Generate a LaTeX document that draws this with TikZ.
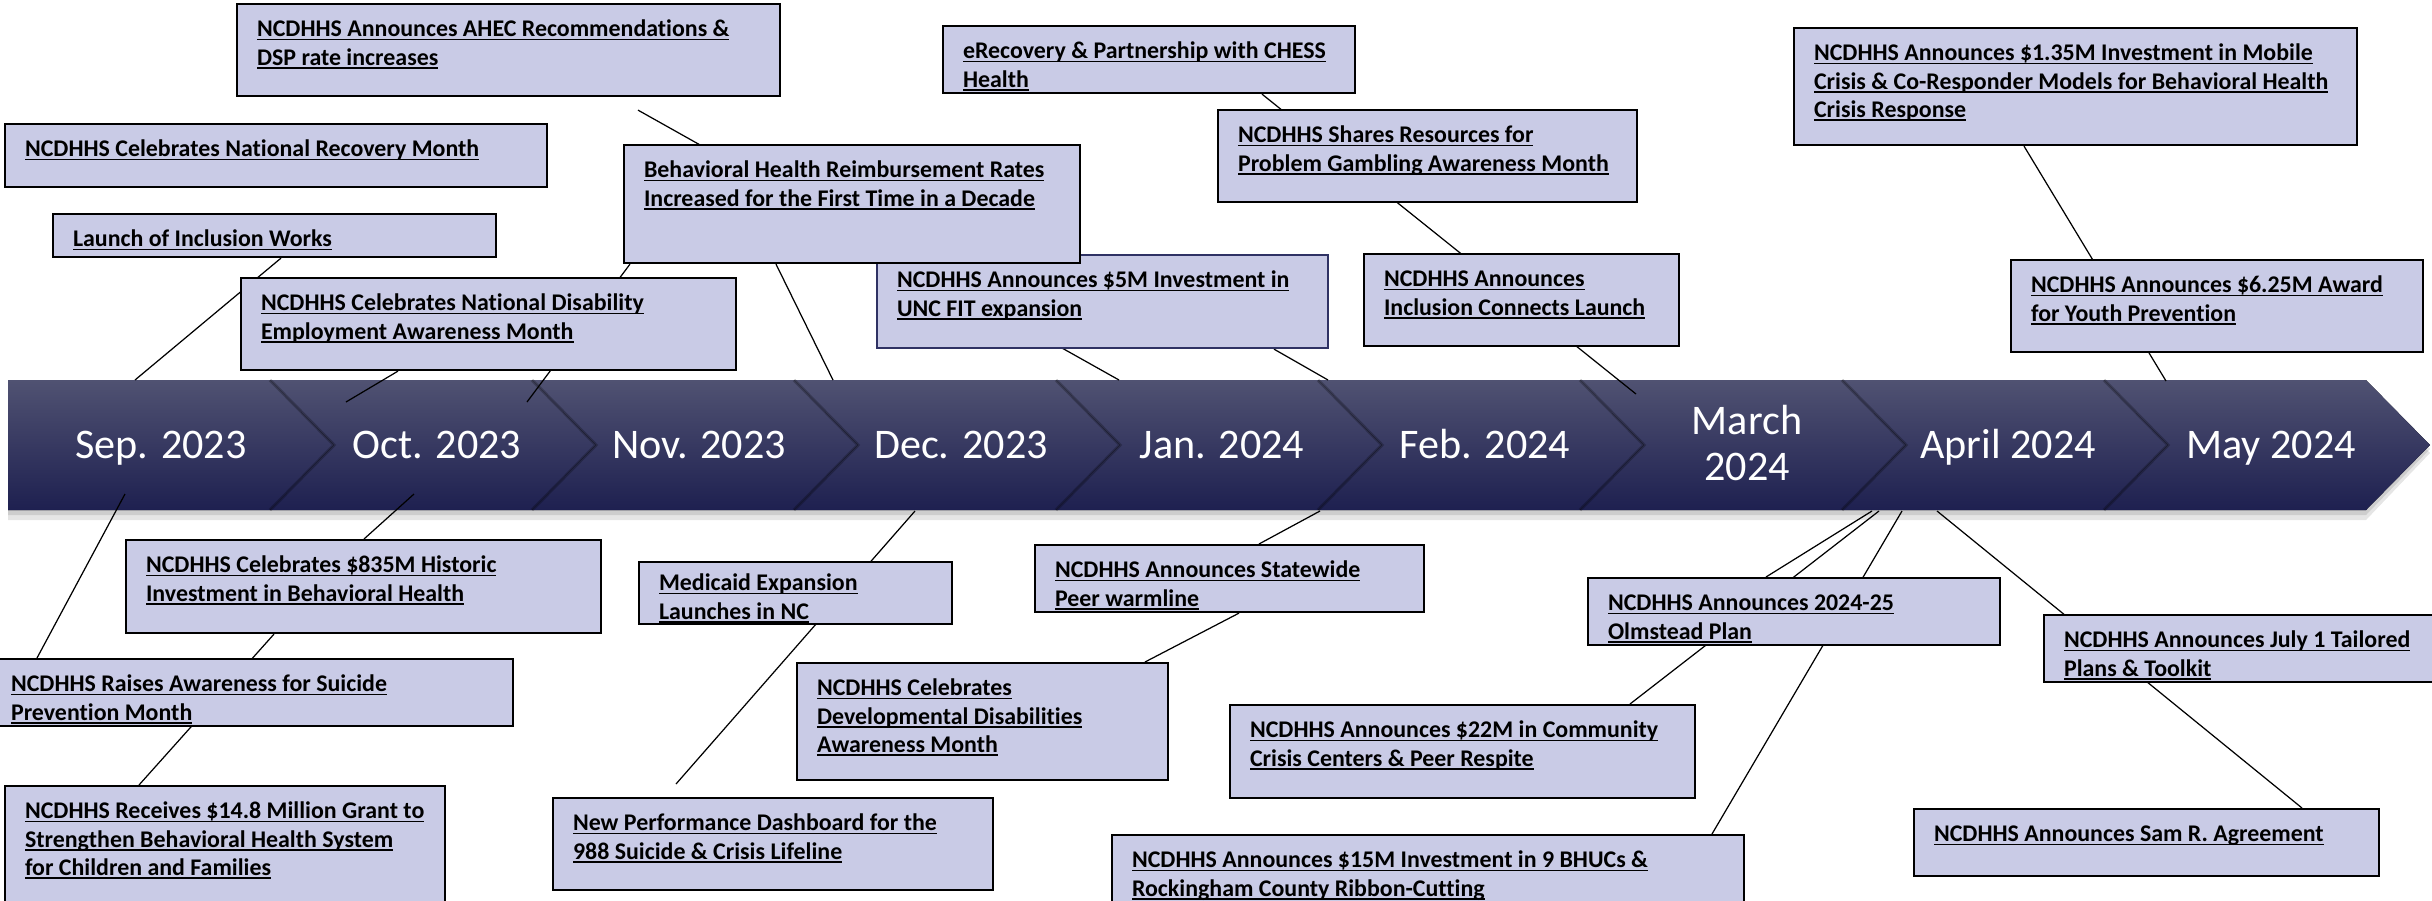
\documentclass[tikz,border=0pt]{standalone}
\usepackage{fontspec}
\setmainfont{Carlito}[Ligatures=NoCommon]
\usepackage{tikz}
\usetikzlibrary{calc,positioning}
\pgfdeclarelayer{back}
\pgfdeclarelayer{links}
\pgfsetlayers{back,links,main}
\definecolor{evfill}{RGB}{201,203,230}
\definecolor{navyedge}{RGB}{47,50,100}
\definecolor{barTop}{RGB}{80,82,114}
\definecolor{barMid}{RGB}{36,38,86}
\definecolor{barBot}{RGB}{30,32,80}
\def\evfont{\fontsize{6.8pt}{8.05pt}\selectfont\bfseries}
\def\mofont{\fontsize{12pt}{13.2pt}\selectfont}
\def\evt#1#2#3{\vbox to #2{\hsize=#1\leftskip=0.2cm\rightskip=0pt plus 1fil\parindent=0pt\parskip=0pt\vskip 0.13cm #3\vfil}}
\def\evline#1{\leavevmode\strut\setbox0\hbox{#1}\rlap{\rule[-1pt]{\wd0}{0.45pt}}\box0\par}
\def\chevseg(#1){\fill[chev] (#1,-3.80) -- ++(2.62,0) -- ++(0.64,-0.65) -- ++(-0.64,-0.65) -- ++(-2.62,0) -- ++(0.64,0.65) -- cycle;
	\draw[notch] (#1,-3.80) -- ++(0.64,-0.65) -- ++(-0.64,-0.65);}

\begin{document}
\begin{tikzpicture}[
	evbox/.style={draw=black, line width=0.6pt, fill=evfill, inner sep=0pt, anchor=north west, font=\evfont},
	month/.style={text=white, font=\mofont, anchor=base, inner sep=0pt},
	chev/.style={top color=barTop, middle color=barMid, bottom color=barBot},
	notch/.style={draw=black, opacity=0.25, line width=0.9pt},
	link/.style={draw=black, line width=0.35pt}]
			%%%%% START %%%%%
			
			\useasboundingbox (0,0) rectangle (24.32,-9);
			\clip (0,0) rectangle (24.32,-9);
			
			\begin{pgfonlayer}{back}
			\fill[white] (0,0) rectangle (24.32,-9);
			\fill[black, opacity=0.10] (0.08,-3.86) -- (23.66,-3.86) -- (24.30,-4.53) -- (23.66,-5.20) -- (0.08,-5.20) -- cycle;
			\fill[black, opacity=0.10] (0.08,-3.83) -- (23.66,-3.83) -- (24.30,-4.49) -- (23.66,-5.15) -- (0.08,-5.15) -- cycle;
			
			\fill[chev] (0.08,-3.80) -- (2.70,-3.80) -- (3.34,-4.45) -- (2.70,-5.10) -- (0.08,-5.10) -- cycle;
			\chevseg(2.70)
			\chevseg(5.32)
			\chevseg(7.94)
			\chevseg(10.56)
			\chevseg(13.18)
			\chevseg(15.80)
			\chevseg(18.42)
			\chevseg(21.04)
			\end{pgfonlayer}
			
			\node[month] (sep) at (1.61,-4.58) {Sep. 2023};
			\node[month] (oct) at (4.37,-4.58) {Oct. 2023};
			\node[month] (nov) at (6.99,-4.58) {Nov. 2023};
			\node[month] (dec) at (9.61,-4.58) {Dec. 2023};
			\node[month] (jan) at (12.22,-4.58) {Jan. 2024};
			\node[month] (feb) at (14.85,-4.58) {Feb. 2024};
			\node[month, anchor=center, align=center] (mar) at (17.47,-4.43) {March\\2024};
			\node[month] (apr) at (20.08,-4.58) {April 2024};
			\node[month] (may) at (22.71,-4.58) {May 2024};
			
			% points on the bar
			\coordinate (sepT) at (1.35,-3.80);
			\coordinate (octT) at (3.46,-4.02);
			\coordinate (novT) at (5.27,-4.02);
			\coordinate (decT) at (8.33,-3.80);
			\coordinate (janT) at (11.19,-3.80);
			\coordinate (febT) at (13.28,-3.80);
			\coordinate (marT) at (16.36,-3.94);
			\coordinate (mayT) at (21.66,-3.81);
			\coordinate (sepB) at (1.25,-4.94);
			\coordinate (octB) at (4.14,-4.94);
			\coordinate (decB) at (9.15,-5.11);
			\coordinate (janB) at (13.20,-5.11);
			\coordinate (aprB1) at (18.72,-5.11);
			\coordinate (aprB2) at (18.79,-5.11);
			\coordinate (aprB3) at (19.02,-5.11);
			\coordinate (aprB4) at (19.37,-5.11);
			\coordinate (dashT) at (6.76,-7.84);
			
			% above the bar
			\node[evbox] (ahec) at (2.36,-0.03) {\evt{5.43cm}{0.92cm}{\evline{NCDHHS Announces AHEC Recommendations \&}\evline{DSP rate increases}}};
			\node[evbox] (recov) at (0.04,-1.23) {\evt{5.42cm}{0.63cm}{\evline{NCDHHS Celebrates National Recovery Month}}};
			\node[evbox] (inclw) at (0.52,-2.13) {\evt{4.43cm}{0.43cm}{\evline{Launch of Inclusion Works}}};
			\node[evbox] (disab) at (2.40,-2.77) {\evt{4.95cm}{0.92cm}{\evline{NCDHHS Celebrates National Disability}\evline{Employment Awareness Month}}};
			\node[evbox, draw=navyedge] (fit) at (8.76,-2.54) {\evt{4.51cm}{0.93cm}{\evline{NCDHHS Announces \$5M Investment in}\evline{UNC FIT expansion}}};
			\node[evbox] (bhrate) at (6.23,-1.44) {\evt{4.56cm}{1.18cm}{\evline{Behavioral Health Reimbursement Rates}\evline{Increased for the First Time in a Decade}}};
			\node[evbox] (erec) at (9.42,-0.25) {\evt{4.12cm}{0.67cm}{\evline{eRecovery \& Partnership with CHESS}\evline{Health}}};
			\node[evbox] (gamb) at (12.17,-1.09) {\evt{4.19cm}{0.92cm}{\evline{NCDHHS Shares Resources for}\evline{Problem Gambling Awareness Month}}};
			\node[evbox] (iconn) at (13.63,-2.53) {\evt{3.15cm}{0.92cm}{\evline{NCDHHS Announces}\evline{Inclusion Connects Launch}}};
			\node[evbox] (mobile) at (17.93,-0.27) {\evt{5.63cm}{1.17cm}{\evline{NCDHHS Announces \$1.35M Investment in Mobile}\evline{Crisis \& Co-Responder Models for Behavioral Health}\evline{Crisis Response}}};
			\node[evbox] (youth) at (20.10,-2.59) {\evt{4.12cm}{0.92cm}{\evline{NCDHHS Announces \$6.25M Award}\evline{for Youth Prevention}}};
			
			% below the bar
			\node[evbox] (hist) at (1.25,-5.39) {\evt{4.75cm}{0.93cm}{\evline{NCDHHS Celebrates \$835M Historic}\evline{Investment in Behavioral Health}}};
			\node[evbox] (suic) at (-0.10,-6.58) {\evt{5.22cm}{0.67cm}{\evline{NCDHHS Raises Awareness for Suicide}\evline{Prevention Month}}};
			\node[evbox] (grant) at (0.04,-7.85) {\evt{4.40cm}{1.40cm}{\evline{NCDHHS Receives \$14.8 Million Grant to}\evline{Strengthen Behavioral Health System}\evline{for Children and Families}}};
			\node[evbox] (medic) at (6.38,-5.61) {\evt{3.13cm}{0.62cm}{\vskip-0.04cm\evline{Medicaid Expansion}\evline{Launches in NC}}};
			\node[evbox] (dash) at (5.52,-7.97) {\evt{4.40cm}{0.92cm}{\evline{New Performance Dashboard for the}\evline{988 Suicide \& Crisis Lifeline}}};
			\node[evbox] (devd) at (7.96,-6.62) {\evt{3.71cm}{1.17cm}{\evline{NCDHHS Celebrates}\evline{Developmental Disabilities}\evline{Awareness Month}}};
			\node[evbox] (peer) at (10.34,-5.44) {\evt{3.89cm}{0.67cm}{\evline{NCDHHS Announces Statewide}\evline{Peer warmline}}};
			\node[evbox] (cris) at (12.29,-7.04) {\evt{4.65cm}{0.93cm}{\evline{NCDHHS Announces \$22M in Community}\evline{Crisis Centers \& Peer Respite}}};
			\node[evbox] (bhuc) at (11.11,-8.34) {\evt{6.32cm}{0.80cm}{\evline{NCDHHS Announces \$15M Investment in 9 BHUCs \&}\evline{Rockingham County Ribbon-Cutting}}};
			\node[evbox] (olms) at (15.87,-5.77) {\evt{4.12cm}{0.67cm}{\evline{NCDHHS Announces 2024-25}\evline{Olmstead Plan}}};
			\node[evbox] (july) at (20.43,-6.14) {\evt{3.89cm}{0.67cm}{\evline{NCDHHS Announces July 1 Tailored}\evline{Plans \& Toolkit}}};
			\node[evbox] (samr) at (19.13,-8.08) {\evt{4.65cm}{0.67cm}{\evline{NCDHHS Announces Sam R. Agreement}}};
			
			\begin{pgfonlayer}{links}
			\draw[link] ([xshift=2.29cm]inclw.south west) -- (sepT);
			\draw[link] ([xshift=1.58cm]disab.south west) -- (octT);
			\draw[link] ([xshift=0.07cm]bhrate.south west) -- (novT);
			\draw[link] ([xshift=1.53cm]bhrate.south west) -- (decT);
			\draw[link] ([xshift=4.02cm, yshift=-0.13cm]ahec.south west) -- (janT);
			\draw[link] ([xshift=3.98cm]fit.south west) -- (febT);
			\draw[link] ([xshift=3.20cm]erec.south west) -- (marT);
			\draw[link] ([xshift=2.31cm]mobile.south west) -- (mayT);
			
			\draw[link] (sepB) -- ([xshift=0.47cm]suic.north west);
			\draw[link] (octB) -- ([xshift=2.39cm]hist.north west);
			\draw[link] ([xshift=1.49cm]hist.south west) -- ([xshift=1.35cm]grant.north west);
			\draw[link] (decB) -- (dashT);
			\draw[link] (janB) -- ([xshift=2.25cm]peer.north west);
			\draw[link] ([xshift=2.05cm]peer.south west) -- ([xshift=3.49cm]devd.north west);
			\draw[link] (aprB1) -- ([xshift=1.79cm]olms.north west);
			\draw[link] (aprB2) -- ([xshift=4.01cm]cris.north west);
			\draw[link] (aprB3) -- ([xshift=6.01cm]bhuc.north west);
			\draw[link] (aprB4) -- ([xshift=3.89cm]samr.north west);
			\end{pgfonlayer}
			
			%%%%% END %%%%%
\end{tikzpicture}
\end{document}
